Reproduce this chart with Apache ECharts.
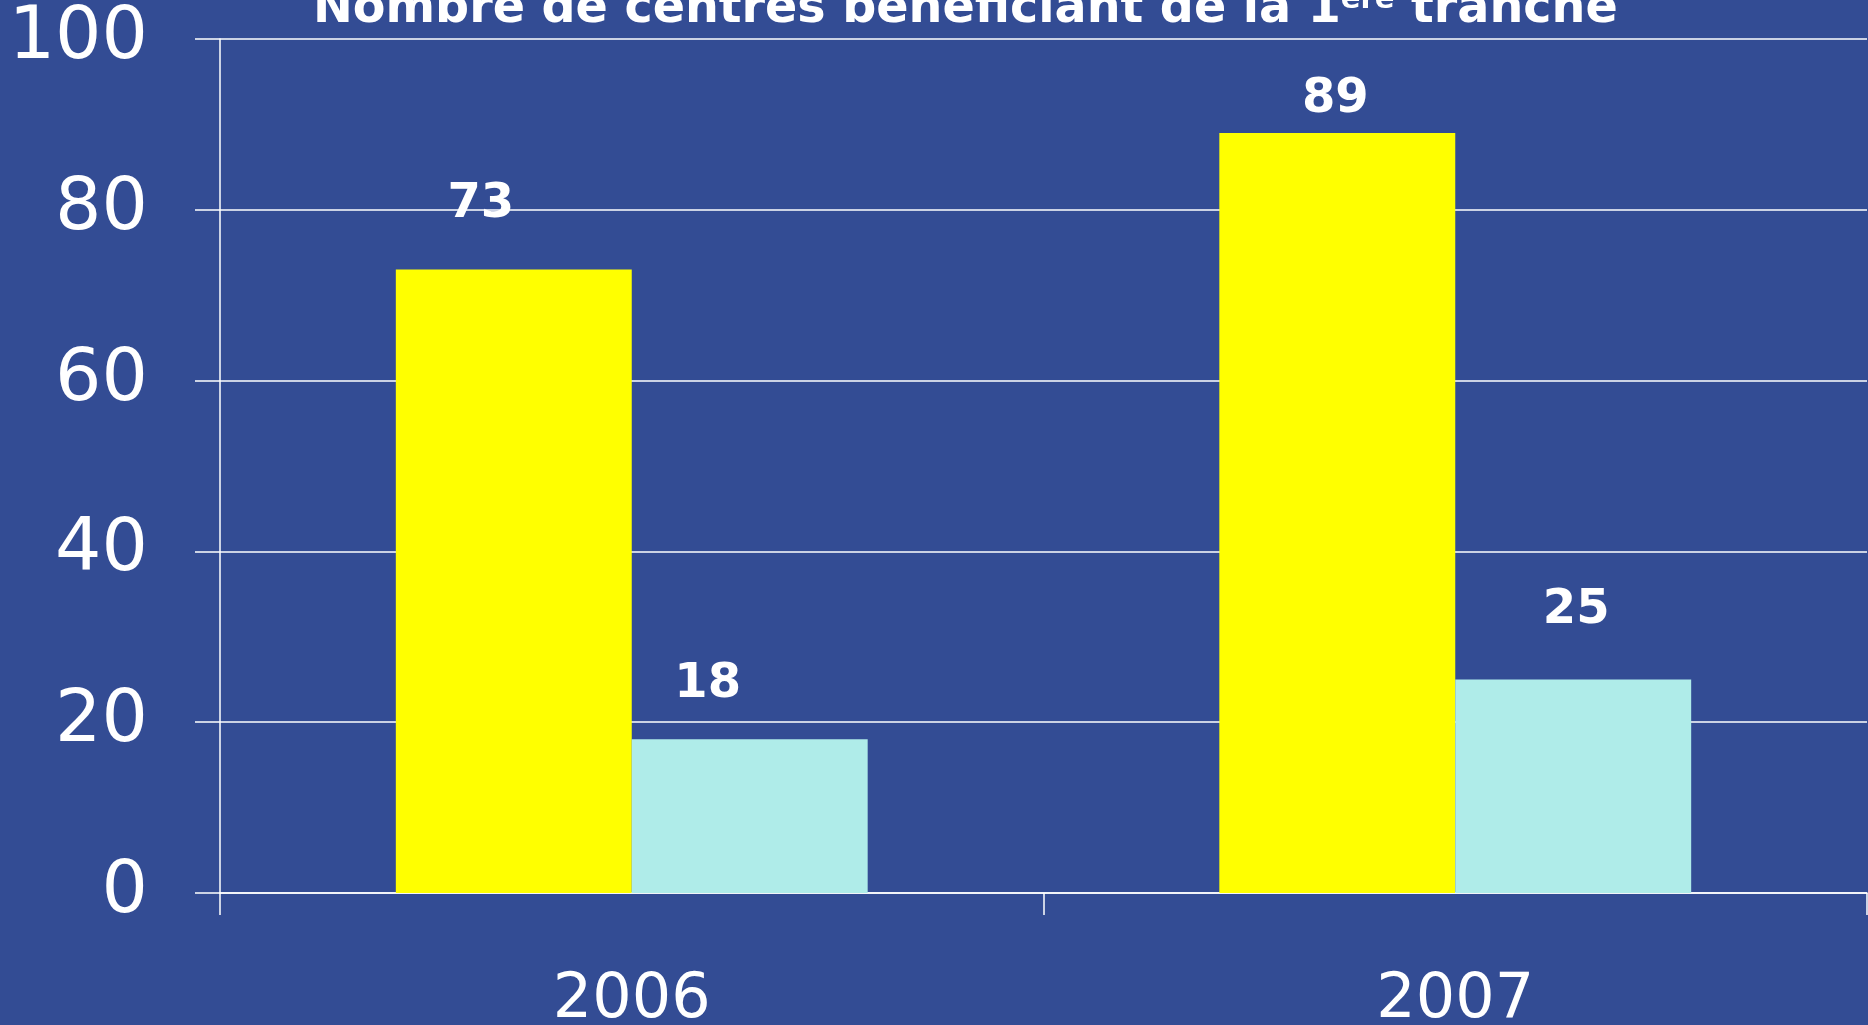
<!DOCTYPE html>
<html>
<head>
    <meta charset="utf-8">
    <title>Nombre de centres bénéficiant de la 1ère tranche</title>
    <script src="https://cdn.jsdelivr.net/npm/echarts@6.0.0/dist/echarts.min.js"></script>
    <style>
        html, body { margin: 0; padding: 0; background: #334c94; }
        #chart1 { width: 1868px; height: 1025px; }
    </style>
</head>
<body>
<div id="chart1"></div>
<script type="text/javascript">
    // données
    var annees = ['2006', '2007'];
    var serieJaune = [73, 89];
    var serieCyan = [18, 25];
    var graduations = [0, 20, 40, 60, 80, 100];

    // décalage des étiquettes (comme sur l'original)
    var decalJaune = [[-33, -41], [-2, -9]];
    var decalCyan = [[-42, -31], [3, -45]];

    function avecEtiquettes(valeurs, decal) {
        return valeurs.map(function (v, i) {
            return { value: v, label: { offset: decal[i] } };
        });
    }

    var myChart1 = echarts.init(document.getElementById('chart1'));

    myChart1.setOption({
        backgroundColor: '#334c94',
        animation: false,
        title: {
            text: '{a|Nombre de centres bénéficiant de la 1}{b|ère}{a| tranche}',
            left: 313,
            top: -14,
            padding: 0,
            textStyle: {
                rich: {
                    a: { fontFamily: 'DejaVu Sans', fontWeight: 'bold', fontSize: 47.6, lineHeight: 48, color: '#ffffff' },
                    b: { fontFamily: 'DejaVu Sans', fontWeight: 'bold', fontSize: 29, lineHeight: 30, color: '#ffffff', verticalAlign: 'top' }
                }
            }
        },
        grid: {
            left: 220,
            right: 1,
            top: 39,
            bottom: 132,
            containLabel: false,
            outerBoundsMode: 'none'
        },
        xAxis: {
            type: 'category',
            data: annees,
            axisLine: { show: true, lineStyle: { color: '#ffffff', width: 1.5 } },
            axisTick: { show: true, length: 22, lineStyle: { color: '#ffffff', width: 1.5 } },
            axisLabel: {
                color: '#ffffff',
                fontFamily: 'DejaVu Sans',
                fontSize: 62,
                margin: 77
            }
        },
        yAxis: {
            type: 'value',
            min: graduations[0],
            max: graduations[graduations.length - 1],
            interval: 20,
            axisLine: { show: true, lineStyle: { color: '#ffffff', width: 1.5 } },
            axisTick: { show: true, length: 25, lineStyle: { color: '#ffffff', width: 1.5 } },
            splitLine: { lineStyle: { color: '#ffffff', width: 1.5 } },
            axisLabel: {
                color: '#ffffff',
                fontFamily: 'DejaVu Sans',
                fontSize: 73,
                margin: 72,
                padding: [27, 0, 0, 0]
            }
        },
        series: [{
            name: 'Série 1',
            type: 'bar',
            barGap: 0,
            barCategoryGap: '42.7%',
            itemStyle: { color: '#ffff00' },
            label: {
                show: true,
                position: 'top',
                distance: 0,
                color: '#ffffff',
                fontFamily: 'DejaVu Sans',
                fontWeight: 'bold',
                fontSize: 48
            },
            data: avecEtiquettes(serieJaune, decalJaune)
        }, {
            name: 'Série 2',
            type: 'bar',
            barGap: 0,
            barCategoryGap: '42.7%',
            itemStyle: { color: '#afece9' },
            label: {
                show: true,
                position: 'top',
                distance: 0,
                color: '#ffffff',
                fontFamily: 'DejaVu Sans',
                fontWeight: 'bold',
                fontSize: 48
            },
            data: avecEtiquettes(serieCyan, decalCyan)
        }]
    });
</script>
</body>
</html>
